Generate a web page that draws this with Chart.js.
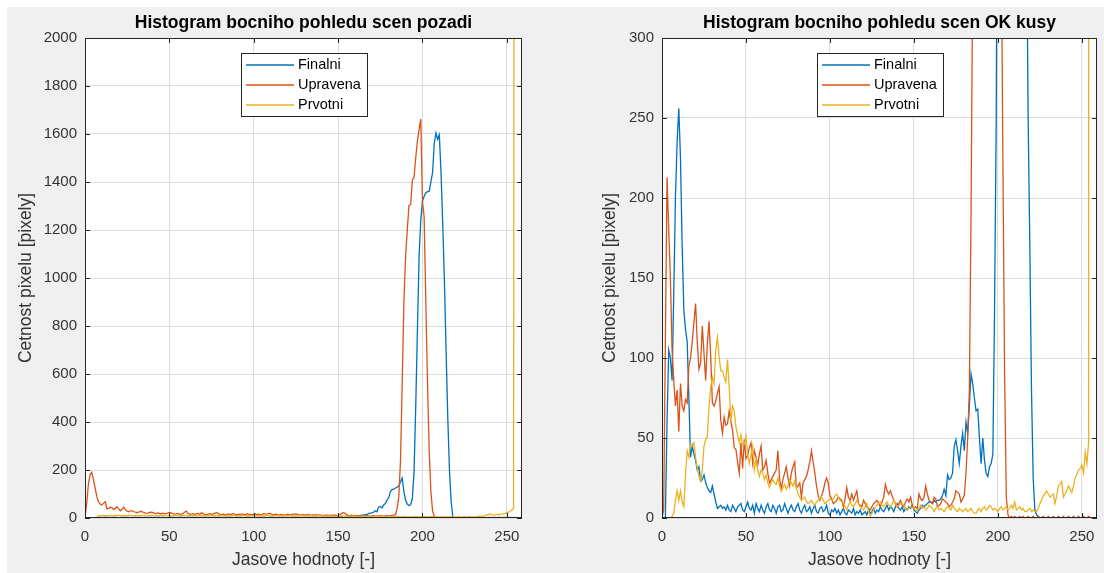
<!DOCTYPE html>
<html>
<head>
<meta charset="utf-8">
<script src="https://cdn.jsdelivr.net/npm/chart.js@4.4.0/dist/chart.umd.min.js"></script>
<style>
  body { margin: 0; background: #fff; }
  #fig { position: absolute; left: 7px; top: 7px; width: 1097px; height: 566px; background: #f0f0f0; }
  .box { position: absolute; top: 0; width: 552px; height: 573px; }
</style>
</head>
<body>
<div id="fig"></div>
<div class="box" style="left:0"><canvas id="pozadi" width="552" height="573"></canvas></div>
<div class="box" style="left:552px"><canvas id="okKusy" width="552" height="573"></canvas></div>
<script>
// jasove hodnoty 0..255
var bins = Array.from({ length: 256 }, function (_, i) { return i; });
var xTicks = [0, 50, 100, 150, 200, 250];

// histogram pozadi
var pozadiFinalni = [
  0,0,0,0,0,0,0,2,2,1,2,2,3,2,2,1,
  2,2,3,2,1,2,2,2,3,2,2,1,2,2,3,2,
  2,2,1,2,2,3,2,2,2,1,2,2,3,2,2,2,
  1,2,3,2,2,2,1,2,2,3,2,2,1,2,2,2,
  3,2,2,1,2,2,2,3,2,2,1,2,2,3,2,2,
  2,1,2,2,3,2,2,2,1,2,3,2,2,2,1,2,
  2,3,2,2,1,2,2,2,3,2,2,2,1,2,3,2,
  2,2,1,2,2,3,2,2,2,1,2,3,2,2,2,2,
  1,2,3,2,2,3,2,2,3,3,2,3,3,4,3,4,
  4,3,4,5,4,5,5,6,5,6,6,7,6,7,8,7,
  8,9,10,10,12,12,14,14,18,20,21,24,30,26,45,48,
  42,54,60,75,85,110,118,120,125,128,135,150,167,110,75,58,
  52,55,80,190,460,780,1090,1240,1320,1340,1355,1360,1362,1400,1440,1560,
  1604,1578,1597,1440,1230,990,700,420,200,70,5,0,0,0,0,0,
  0,0,0,0,0,0,0,0,0,0,0,0,0,0,0,0,
  0,0,0,0,0,0,0,0,0,0,0,0,0,0,0,0
];
var pozadiUpravena = [
  0,60,140,180,190,160,125,90,68,58,54,62,68,38,40,45,
  42,36,40,47,38,30,36,45,34,28,26,30,30,26,24,22,
  25,28,26,22,20,19,22,24,23,20,18,21,19,17,20,18,
  18,20,23,21,18,16,17,19,16,15,18,24,29,20,15,16,
  18,14,17,19,16,22,18,15,14,16,18,15,17,20,22,18,
  15,14,16,13,15,17,14,16,18,15,13,16,14,17,15,13,
  18,14,16,13,15,17,14,16,13,15,18,16,17,19,18,15,
  13,16,14,12,15,13,14,12,16,14,13,15,16,17,15,13,
  12,14,13,12,15,13,11,13,12,14,11,13,12,10,12,11,
  13,10,12,11,13,10,11,14,18,22,20,14,11,10,12,9,
  10,11,9,8,10,9,8,10,9,8,9,10,8,9,8,10,
  9,8,9,10,9,10,11,12,15,40,90,240,560,900,1090,1200,
  1302,1306,1408,1420,1500,1570,1620,1662,1320,1255,900,560,280,110,30,8,
  4,2,2,1,2,2,1,2,2,1,2,2,1,2,2,1,
  2,2,1,2,2,1,2,2,1,2,2,1,2,2,1,2,
  2,1,2,2,1,2,2,1,2,2,1,2,2,1,2,2
];
var pozadiPrvotni = [
  0,0,0,0,0,0,0,0,9,10,9,11,10,9,10,11,
  10,9,11,10,12,10,9,11,10,10,12,11,9,10,11,10,
  9,11,10,12,10,9,10,11,10,9,11,10,10,12,11,10,
  9,10,11,10,9,11,10,10,9,11,12,10,9,10,11,9,
  10,11,10,9,10,11,9,10,10,11,9,10,11,10,9,10,
  11,10,9,10,11,9,10,10,9,11,10,9,10,11,10,9,
  10,9,11,10,9,10,10,11,9,10,9,10,11,10,9,10,
  9,10,11,9,10,9,10,10,11,9,10,9,8,10,9,10,
  9,8,10,9,8,9,10,8,9,8,9,10,8,9,8,9,
  8,9,8,7,9,8,7,8,9,7,8,7,8,9,7,8,
  7,8,7,6,8,7,6,7,8,6,7,6,7,8,6,7,
  6,7,6,5,7,6,5,6,7,5,6,5,6,7,5,6,
  5,6,5,6,7,5,6,5,6,7,5,6,5,6,7,5,
  6,5,4,5,6,4,5,4,5,6,4,5,4,6,5,4,
  5,6,4,5,6,5,4,6,5,7,8,6,8,10,12,15,
  17,14,12,13,15,14,15,16,17,19,22,24,28,33,40,9000
];

// histogram OK kusy
var okFinalni = [
  0,0,0,60,105,100,86,140,200,235,256,225,170,130,118,110,
  75,38,45,40,36,30,32,23,24,27,22,19,17,16,20,15,
  10,6,7,8,6,7,5,8,5,4,8,6,4,7,8,9,
  5,4,7,10,6,5,8,3,9,6,4,8,5,3,7,9,
  5,4,8,6,3,7,8,4,5,9,6,3,6,8,5,4,
  7,9,5,3,6,8,4,5,7,3,6,8,4,3,6,7,
  4,5,8,3,2,5,4,6,3,5,2,4,6,3,2,5,
  4,3,6,2,4,3,5,2,3,4,2,5,3,4,6,3,
  5,4,7,5,4,6,8,5,7,6,4,7,9,6,5,7,
  4,6,5,7,6,8,5,4,3,5,6,8,7,8,9,10,
  10,9,11,10,11,11,12,14,18,14,27,24,25,28,45,49,
  42,34,45,53,42,60,53,70,90,84,75,67,68,50,34,50,
  36,28,26,32,34,40,130,250,500,900,1200,1350,1450,1500,1520,1480,
  1420,1400,1350,1300,1200,1000,800,650,520,380,250,170,80,25,5,2,
  1,0,0,0,0,0,0,0,0,0,0,0,0,0,0,0,
  0,0,0,0,0,0,0,0,0,0,0,0,0,0,0,0
];
var okUpravena = [
  0,5,110,213,180,150,105,86,70,80,54,84,70,67,74,72,
  95,100,110,122,134,110,93,97,120,103,86,109,123,101,72,70,
  73,78,82,61,53,63,58,59,67,60,55,44,43,35,28,47,
  31,49,37,39,44,47,34,42,38,33,40,45,30,32,36,28,
  22,24,26,28,30,42,25,18,24,28,32,25,20,28,32,35,
  19,20,22,13,22,24,26,30,35,42,35,28,20,14,11,14,
  17,22,25,22,14,12,9,10,11,13,12,11,7,12,19,13,
  11,15,11,14,17,9,8,7,11,9,7,6,5,7,9,10,
  11,9,7,10,13,21,17,15,17,14,11,9,7,9,11,8,
  7,10,12,10,13,8,6,7,6,15,12,11,13,20,15,11,
  10,9,13,12,7,8,9,12,11,10,9,7,8,10,12,17,
  16,15,10,12,14,28,50,80,190,340,700,1000,1200,1350,1450,1500,
  1480,1400,1300,1250,1200,1100,950,800,650,500,360,220,90,13,2,0,
  1,0,1,0,0,1,0,1,0,0,1,0,0,1,0,0,
  1,0,0,1,0,0,1,0,0,1,0,0,1,0,0,1,
  0,0,1,0,0,1,0,0,1,0,0,1,0,0,1,0
];
var okPrvotni = [
  0,0,0,0,0,0,1,3,11,17,11,17,10,7,28,42,
  38,46,45,47,38,31,26,23,30,45,49,51,70,82,88,84,
  105,113,101,92,92,88,85,99,82,60,70,67,57,52,47,52,
  45,46,51,40,34,40,45,30,37,30,26,30,28,24,27,22,
  19,22,24,22,21,25,20,17,19,21,18,20,24,22,20,23,
  19,15,13,11,12,13,10,9,10,11,9,8,10,11,12,13,
  11,9,10,11,12,11,12,14,15,13,11,10,9,7,5,8,
  10,8,7,9,11,9,7,6,5,7,9,4,1,3,5,7,
  8,9,10,8,7,9,10,8,7,9,11,9,7,8,9,9,
  8,6,5,6,7,7,6,5,5,6,8,6,7,5,6,8,
  7,6,4,6,7,5,6,5,4,6,7,6,5,8,6,5,
  4,6,5,4,5,6,4,5,6,4,3,3,5,6,4,6,
  7,5,6,8,7,5,6,5,4,6,7,5,6,7,5,6,
  8,6,10,5,6,7,5,6,4,4,5,6,4,5,4,4,
  6,9,11,14,15,17,15,13,14,15,9,14,20,21,23,13,
  15,17,20,18,16,20,25,27,30,31,33,28,41,34,47,9000
];

var FONT = '"Liberation Sans", Arial, Helvetica, sans-serif';
var AXIS = '#262626';
var LABEL = '#333333';
Chart.defaults.font.family = FONT;

// bily podklad osy, ramecek a ticky dovnitr (jako v matlabu)
var matlabAxes = {
  id: 'matlabAxes',
  beforeDraw: function (chart) {
    var a = chart.chartArea, ctx = chart.ctx;
    ctx.save();
    ctx.fillStyle = '#fff';
    ctx.fillRect(a.left, a.top, a.right - a.left, a.bottom - a.top);
    ctx.restore();
  },
  afterDraw: function (chart) {
    var a = chart.chartArea, ctx = chart.ctx;
    var xs = chart.scales.x, ys = chart.scales.y;
    ctx.save();
    ctx.strokeStyle = AXIS;
    ctx.lineWidth = 1;
    ctx.beginPath();
    xs.ticks.forEach(function (t) {
      var p = Math.round(xs.getPixelForValue(t.value)) + 0.5;
      ctx.moveTo(p, a.bottom); ctx.lineTo(p, a.bottom - 5);
      ctx.moveTo(p, a.top); ctx.lineTo(p, a.top + 5);
    });
    ys.ticks.forEach(function (t) {
      var p = Math.round(ys.getPixelForValue(t.value)) + 0.5;
      ctx.moveTo(a.left, p); ctx.lineTo(a.left + 5, p);
      ctx.moveTo(a.right, p); ctx.lineTo(a.right - 5, p);
    });
    ctx.stroke();
    ctx.strokeRect(a.left + 0.5, a.top + 0.5, a.right - a.left - 1, a.bottom - a.top - 1);
    ctx.restore();
  }
};

// legenda uvnitr grafu
var insideLegend = {
  id: 'insideLegend',
  afterDraw: function (chart, args, opts) {
    var ctx = chart.ctx, a = chart.chartArea;
    var x0 = a.left + opts.left, y0 = a.top + 15, w = 126, h = 63;
    ctx.save();
    ctx.fillStyle = '#fff';
    ctx.fillRect(x0, y0, w, h);
    ctx.strokeStyle = AXIS;
    ctx.lineWidth = 1;
    ctx.strokeRect(x0 + 0.5, y0 + 0.5, w, h);
    ctx.font = '14.5px ' + FONT;
    ctx.textBaseline = 'middle';
    chart.data.datasets.forEach(function (ds, i) {
      var y = y0 + 12 + i * 20;
      ctx.strokeStyle = ds.borderColor;
      ctx.lineWidth = 1.3;
      ctx.beginPath();
      ctx.moveTo(x0 + 5, y);
      ctx.lineTo(x0 + 53, y);
      ctx.stroke();
      ctx.fillStyle = '#000';
      ctx.fillText(ds.label, x0 + 57, y);
    });
    ctx.restore();
  }
};

function points(vals) {
  return bins.map(function (b, i) { return { x: b, y: vals[i] }; });
}

function histogram(id, title, yMax, yStep, finalni, upravena, prvotni, lay) {
  return new Chart(document.getElementById(id), {
    type: 'line',
    data: {
      datasets: [
        { label: 'Finalni', data: points(finalni), borderColor: '#0072BD', order: 2 },
        { label: 'Upravena', data: points(upravena), borderColor: '#D95319', order: 1 },
        { label: 'Prvotni', data: points(prvotni), borderColor: '#EDB120', order: 0 }
      ]
    },
    plugins: [matlabAxes, insideLegend],
    options: {
      responsive: false,
      animation: false,
      layout: { padding: { left: 0, right: lay.right, top: 0, bottom: 0 } },
      elements: {
        line: { borderWidth: 1.3, tension: 0 },
        point: { radius: 0, hoverRadius: 0 }
      },
      plugins: {
        legend: { display: false },
        tooltip: { enabled: false },
        insideLegend: { left: lay.legend },
        title: {
          display: true,
          text: title,
          fullSize: false,
          color: '#000',
          font: { size: 17.5, weight: 'bold' },
          padding: { top: 13, bottom: 4 }
        }
      },
      scales: {
        x: {
          type: 'linear',
          min: 0,
          max: 259,
          afterBuildTicks: function (s) { s.ticks = xTicks.map(function (v) { return { value: v }; }); },
          afterFit: function (s) { s.height = 55; s.paddingLeft = 0; s.paddingRight = 0; },
          grid: { color: '#dcdcdc', drawTicks: false },
          border: { display: false },
          ticks: { color: LABEL, font: { size: 15 }, padding: 10, maxRotation: 0, autoSkip: false,
                   callback: function (v) { return String(v); } },
          title: { display: true, text: 'Jasove hodnoty [-]', color: LABEL, font: { size: 17.5 },
                   padding: { top: 0, bottom: 2.8 } }
        },
        y: {
          min: 0,
          max: yMax,
          afterFit: function (s) { s.width = lay.yWidth; s.paddingTop = 0; s.paddingBottom = 0; },
          grid: { color: '#dcdcdc', drawTicks: false },
          border: { display: false },
          ticks: { stepSize: yStep, color: LABEL, font: { size: 15 }, padding: 8,
                   callback: function (v) { return String(v); } },
          title: { display: true, text: 'Cetnost pixelu [pixely]', color: LABEL, font: { size: 17.5 },
                   padding: { top: lay.yTitle, bottom: 0 } }
        }
      }
    }
  });
}

histogram('pozadi', 'Histogram bocniho pohledu scen pozadi', 2000, 200,
  pozadiFinalni, pozadiUpravena, pozadiPrvotni,
  { right: 30, yWidth: 85, yTitle: 15.5, legend: 156 });

histogram('okKusy', 'Histogram bocniho pohledu scen OK kusy', 300, 50,
  okFinalni, okUpravena, okPrvotni,
  { right: 7, yWidth: 110, yTitle: 48, legend: 155 });
</script>
</body>
</html>
